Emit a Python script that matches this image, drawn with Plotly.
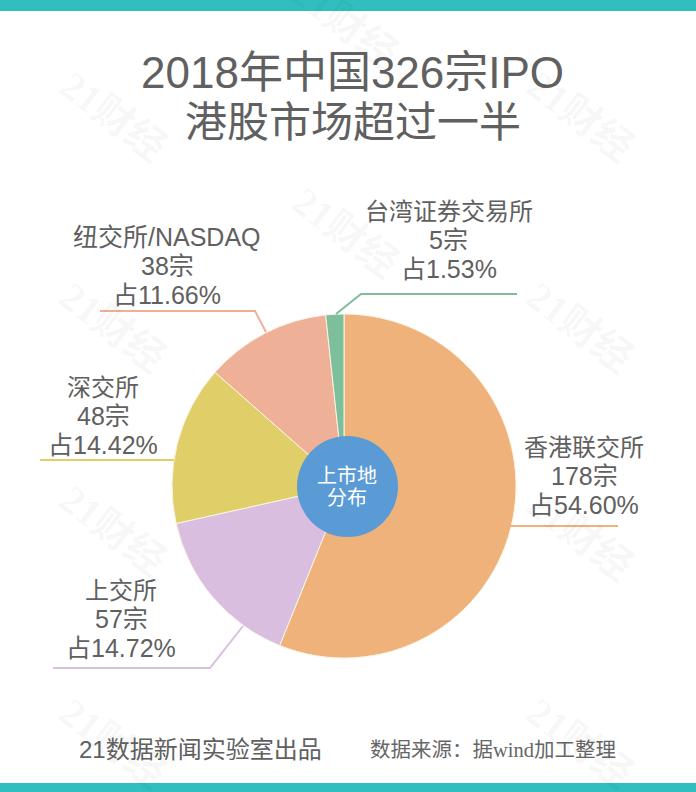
"""
2018 China IPO venues: pie with hand-placed labels, as in the 21 data news card
"""

import plotly.graph_objects as go

W = 696
H = 792

# slice shares as drawn in the picture (deg-based reading, not the printed numbers)
venues = ['香港联交所', '上交所', '深交所', '纽交所/NASDAQ', '台湾证券交易所']
slice_shares = [56.1, 15.4, 15.0, 11.8, 1.7]
count_labels = ['178宗', '57宗', '48宗', '38宗', '5宗']
pct_labels = ['占54.60%', '占14.72%', '占14.42%', '占11.66%', '占1.53%']
colors = ['#EFB27A', '#D9BEDF', '#E0CF68', '#EFB098', '#7DBE9B']

title_lines = ['2018年中国326宗IPO', '港股市场超过一半']
center_lines = ['上市地', '分布']
footer_left = '21数据新闻实验室出品'
footer_right = '数据来源\uff1a据wind加工整理'

# label block centre x / first line y, in page pixels
label_pos = [(584, 447), (121, 590), (103, 387), (167, 237), (449, 211)]
name_sizes = [24, 24, 24, 25, 24]

# leader polylines in page pixels
leaders = [
    [(510, 526), (618, 526)],
    [(53, 668), (210, 668), (243, 626)],
    [(40, 460), (174, 460)],
    [(100, 311), (255, 311), (266, 332)],
    [(336, 314), (361, 294), (517, 294)],
]

# the two centre ones sit on the pie, where the mark is barely visible
watermark_pos = [(345, 23), (113, 117), (580, 117), (345, 233), (113, 327), (580, 327),
                 (345, 440), (113, 530), (580, 535), (345, 650), (113, 743), (580, 743)]
watermark_alpha = [0.04, 0.04, 0.04, 0.04, 0.04, 0.04, 0.015, 0.04, 0.04, 0.015, 0.04, 0.04]

TEXT_GREY = '#606060'
SANS = '"Liberation Sans", "Noto Sans CJK SC", sans-serif'
SERIF = '"Liberation Serif", "Noto Sans CJK SC", serif'


def px(x):
    return x / W


def py(y):
    return 1 - y / H


def add_text(fig, x, y, text, size, color=TEXT_GREY, family=SANS, angle=0):
    fig.add_annotation(x=px(x), y=py(y), xref='paper', yref='paper', text=text, showarrow=False,
                       xanchor='center', yanchor='middle', textangle=angle,
                       font=dict(size=size, color=color, family=family))


fig = go.Figure(go.Pie(labels=venues, values=slice_shares, sort=False, direction='clockwise',
                       rotation=0, textinfo='none', hoverinfo='label', showlegend=False,
                       marker=dict(colors=colors, line=dict(color='#FBF3E6', width=1)),
                       domain=dict(x=[px(172), px(516)], y=[py(658), py(314)])))

# top and bottom bands
fig.add_shape(type='rect', xref='paper', yref='paper', x0=0, x1=1, y0=py(11), y1=1,
              fillcolor='#30BEBE', line_width=0)
fig.add_shape(type='rect', xref='paper', yref='paper', x0=0, x1=1, y0=0, y1=py(783),
              fillcolor='#30BEBE', line_width=0)

# blue hub
fig.add_shape(type='circle', xref='paper', yref='paper', x0=px(297), x1=px(398), y0=py(537), y1=py(436),
              fillcolor='#5B9BD5', line_width=0)

for pts, color in zip(leaders, colors):
    path = 'M ' + ' L '.join('{} {}'.format(px(x), py(y)) for x, y in pts)
    fig.add_shape(type='path', xref='paper', yref='paper', path=path,
                  line=dict(color=color, width=2))

for (x, y), name, cnt, pct, size in zip(label_pos, venues, count_labels, pct_labels, name_sizes):
    add_text(fig, x, y, name, size)
    add_text(fig, x, y + 29, cnt, 25)
    add_text(fig, x, y + 58, pct, 25)

add_text(fig, 352, 72, title_lines[0], 44)
add_text(fig, 353, 123, title_lines[1], 42)
add_text(fig, 347, 476, center_lines[0], 20, color='white')
add_text(fig, 347, 498, center_lines[1], 20, color='white')
add_text(fig, 200, 749, footer_left, 24)
add_text(fig, 493, 750, footer_right, 20.5, color='#666666', family=SERIF)

for (x, y), alpha in zip(watermark_pos, watermark_alpha):
    add_text(fig, x, y, '<b>21财经</b>', 40, color='rgba(0,0,0,{})'.format(alpha), family=SERIF, angle=37)

fig.update_layout(width=W, height=H, margin=dict(l=0, r=0, t=0, b=0),
                  paper_bgcolor='white', plot_bgcolor='white')

fig.write_html("out.html", config=dict(displayModeBar=False),
               post_script="document.body.style.margin='0';document.body.style.overflow='hidden';")
